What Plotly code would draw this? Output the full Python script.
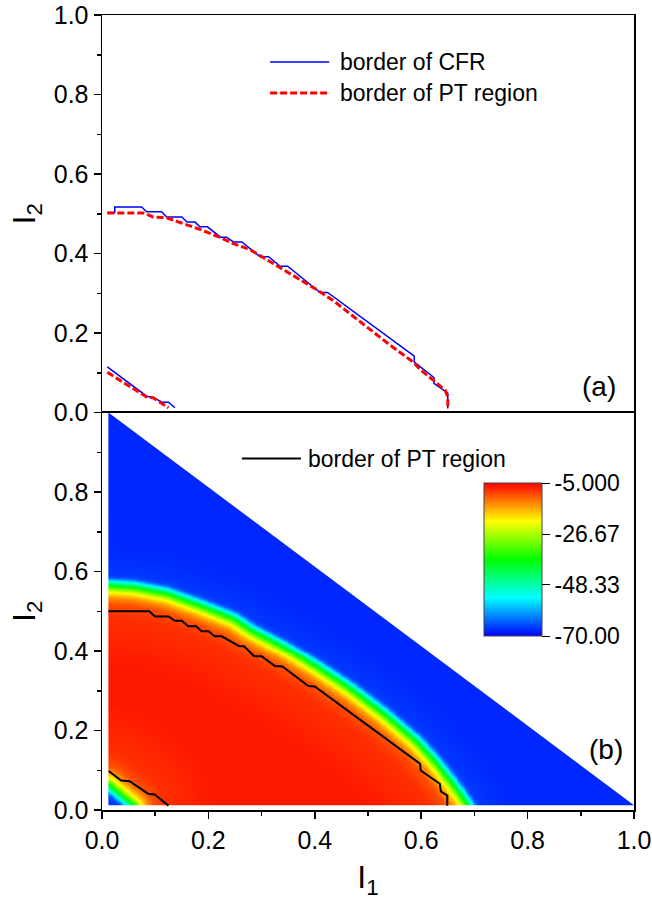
import numpy as np
import plotly.graph_objects as go

FONT = "Liberation Sans, Arial, sans-serif"

# ---------------- panel (a): borders ----------------
cfr_main_l1 = [0.010, 0.024, 0.024, 0.0745, 0.084, 0.112, 0.1215, 0.150, 0.160, 0.175,
               0.184, 0.198, 0.223, 0.234, 0.247, 0.263, 0.297, 0.313, 0.335, 0.349,
               0.410, 0.424, 0.587, 0.587, 0.624, 0.624, 0.650, 0.650]
cfr_main_l2 = [0.503, 0.503, 0.517, 0.517, 0.505, 0.505, 0.492, 0.492, 0.479, 0.479,
               0.467, 0.467, 0.441, 0.441, 0.429, 0.429, 0.392, 0.392, 0.368, 0.368,
               0.302, 0.302, 0.142, 0.127, 0.088, 0.073, 0.049, 0.010]
cfr_small_l1 = [0.010, 0.084, 0.096, 0.113, 0.125, 0.137]
cfr_small_l2 = [0.115, 0.041, 0.038, 0.026, 0.026, 0.012]

pt_main_l1 = [0.010, 0.078, 0.096, 0.1215, 0.153, 0.184, 0.2155, 0.247, 0.278, 0.3095,
              0.341, 0.372, 0.4035, 0.435, 0.504, 0.541, 0.585, 0.598, 0.623, 0.645,
              0.650, 0.650]
pt_main_l2 = [0.502, 0.502, 0.492, 0.490, 0.475, 0.461, 0.444, 0.425, 0.410, 0.385,
              0.359, 0.334, 0.309, 0.281, 0.209, 0.170, 0.127, 0.108, 0.081, 0.056,
              0.039, 0.010]
pt_small_l1 = [0.010, 0.084, 0.096, 0.125]
pt_small_l2 = [0.101, 0.039, 0.037, 0.012]

# ---------------- panel (b): PT border (black) ----------------
ptb_main_l1 = [0.012, 0.089, 0.0996, 0.125, 0.137, 0.150, 0.162, 0.177, 0.187, 0.200,
               0.212, 0.225, 0.258, 0.267, 0.286, 0.300, 0.325, 0.339, 0.388, 0.400,
               0.598, 0.599, 0.635, 0.637, 0.649, 0.649]
ptb_main_l2 = [0.500, 0.500, 0.487, 0.487, 0.476, 0.476, 0.462, 0.462, 0.450, 0.450,
               0.437, 0.437, 0.412, 0.412, 0.387, 0.387, 0.362, 0.361, 0.312, 0.311,
               0.116, 0.0995, 0.066, 0.047, 0.0365, 0.011]
ptb_small_l1 = [0.0125, 0.036, 0.052, 0.0865, 0.099, 0.125]
ptb_small_l2 = [0.098, 0.074, 0.0725, 0.041, 0.039, 0.011]

# centre (green) of the colour transition band
band_l1 = [0.012, 0.059, 0.1215, 0.184, 0.247, 0.278, 0.341, 0.4035, 0.466, 0.529,
           0.5915, 0.629, 0.654, 0.673, 0.688]
band_l2 = [0.565, 0.561, 0.545, 0.515, 0.482, 0.454, 0.410, 0.360, 0.305, 0.242,
           0.171, 0.116, 0.074, 0.040, 0.010]
# small band near the origin (blue corner)
corner_l1 = [0.012, 0.061]
corner_l2 = [0.066, 0.012]
# colour profile across a band: distance in px from band centre -> value
prof_d = [-80, -30, -18, -12, -6.4, 0, 4.7, 8.4, 12, 40]
prof_v = [-6.5, -8.0, -10.0, -14.0, -21.25, -37.5, -53.75, -65.0, -66.5, -67.5]

cbar_vals = [-5.0, -26.67, -48.33, -70.0]
cbar_text = ["-5.000", "-26.67", "-48.33", "-70.00"]

# ---------------- build the value table for the heatmap ----------------
PXS, PYS = 532.0, 397.0
gx = np.round(np.arange(0.010, 1.0051, 0.005), 4)
gy = np.round(np.arange(0.010, 1.0051, 0.005), 4)
GX, GY = np.meshgrid(gx, gy)
PX, PY = GX * PXS, GY * PYS


def seg_dist(xs, ys):
    d = np.full(PX.shape, np.inf)
    for i in range(len(xs) - 1):
        ax_, ay_ = xs[i] * PXS, ys[i] * PYS
        vx, vy = xs[i + 1] * PXS - ax_, ys[i + 1] * PYS - ay_
        t = np.clip(((PX - ax_) * vx + (PY - ay_) * vy) / (vx * vx + vy * vy), 0, 1)
        d = np.minimum(d, np.hypot(PX - ax_ - t * vx, PY - ay_ - t * vy))
    return d


bx = np.array(band_l1) * PXS
by = np.array(band_l2) * PYS
th_c = np.arctan2(by, bx)[::-1]
r_c = np.hypot(bx, by)[::-1]
th = np.arctan2(PY, PX)
sign_main = np.where(np.hypot(PX, PY) > np.interp(th, th_c, r_c), 1.0, -1.0)
d_main = sign_main * seg_dist(band_l1, band_l2)
z_main = np.interp(d_main, prof_d, prof_v)

cax, cay = corner_l1[0] * PXS, corner_l2[0] * PYS
cbx, cby = corner_l1[1] * PXS, corner_l2[1] * PYS
cross_p = (cbx - cax) * (PY - cay) - (cby - cay) * (PX - cax)
cross_o = (cbx - cax) * (0 - cay) - (cby - cay) * (0 - cax)
sign_c = np.where(cross_p * cross_o > 0, 1.0, -1.0)
d_corner = sign_c * seg_dist(corner_l1, corner_l2)
z_corner = np.interp(d_corner, prof_d, prof_v)
Z = np.minimum(z_main, z_corner)

rainbow = [[0.0, "rgb(0,0,255)"], [0.25, "rgb(0,255,255)"], [0.5, "rgb(0,255,0)"],
           [0.75, "rgb(255,255,0)"], [1.0, "rgb(255,0,0)"]]

fig = go.Figure()

# panel (a)
fig.add_trace(go.Scatter(x=cfr_main_l1, y=cfr_main_l2, mode="lines", name="border of CFR",
                         line=dict(color="#0000ff", width=1.5), xaxis="x", yaxis="y"))
fig.add_trace(go.Scatter(x=cfr_small_l1, y=cfr_small_l2, mode="lines", showlegend=False,
                         line=dict(color="#0000ff", width=1.5), xaxis="x", yaxis="y"))
fig.add_trace(go.Scatter(x=pt_main_l1, y=pt_main_l2, mode="lines", name="border of PT region",
                         line=dict(color="#ff0000", width=3, dash="7px,3px"), xaxis="x", yaxis="y"))
fig.add_trace(go.Scatter(x=pt_small_l1, y=pt_small_l2, mode="lines", showlegend=False,
                         line=dict(color="#ff0000", width=3, dash="7px,3px"), xaxis="x", yaxis="y"))

# panel (b)
fig.add_trace(go.Heatmap(x=gx, y=gy, z=Z, zmin=-70, zmax=-5, colorscale=rainbow,
                         zsmooth="best", xaxis="x2", yaxis="y2", hoverinfo="skip",
                         colorbar=dict(x=(484 - 102) / 532, xanchor="left", xpad=0,
                                       y=(810 - 559.5) / 795, yanchor="middle", ypad=0,
                                       len=153, lenmode="pixels", thickness=58,
                                       thicknessmode="pixels", outlinewidth=1,
                                       outlinecolor="#444", ticks="outside", ticklen=8,
                                       tickwidth=1, tickcolor="black",
                                       tickmode="array", tickvals=cbar_vals, ticktext=cbar_text,
                                       tickfont=dict(size=23, family=FONT, color="black"))))
# white outside the computed triangle
mask_x = [0.012, 1.0, 1.05, 1.05, 0.012, None,
          -0.05, 0.012, 0.012, -0.05, None,
          -0.05, 1.05, 1.05, -0.05]
mask_y = [1.0, 0.012, 0.012, 1.05, 1.05, None,
          -0.05, -0.05, 1.05, 1.05, None,
          -0.05, -0.05, 0.012, 0.012]
fig.add_trace(go.Scatter(x=mask_x, y=mask_y, mode="lines", fill="toself", fillcolor="white",
                         line=dict(width=0, color="white"), hoverinfo="skip",
                         showlegend=False, xaxis="x2", yaxis="y2"))
fig.add_trace(go.Scatter(x=ptb_main_l1, y=ptb_main_l2, mode="lines", name="border of PT region",
                         line=dict(color="black", width=2), xaxis="x2", yaxis="y2"))
fig.add_trace(go.Scatter(x=ptb_small_l1, y=ptb_small_l2, mode="lines", showlegend=False,
                         line=dict(color="black", width=2), xaxis="x2", yaxis="y2"))

tickfont = dict(size=25, family=FONT, color="black")
common = dict(range=[0, 1], showline=True, linecolor="black", linewidth=1.5, mirror=True,
              ticks="outside", ticklen=7, tickwidth=1.5, tickcolor="black",
              showgrid=False, zeroline=False, tickfont=tickfont, fixedrange=True,
              automargin=False, ticklabeloverflow="allow")
minor = dict(tickmode="array", tickvals=[0.1, 0.3, 0.5, 0.7, 0.9], ticks="outside",
             ticklen=4, tickwidth=1.5, tickcolor="black", showgrid=False)
major_vals = [0.0, 0.2, 0.4, 0.6, 0.8, 1.0]
major_text = ["0.0", "0.2", "0.4", "0.6", "0.8", "1.0"]

fig.update_layout(
    template="none",
    width=652, height=905,
    margin=dict(l=102, r=18, t=15, b=95, autoexpand=False),
    paper_bgcolor="white", plot_bgcolor="white",
    showlegend=False,
    font=dict(family=FONT, color="black"),
    xaxis=dict(common, anchor="y", tickmode="array", tickvals=major_vals,
               showticklabels=False, minor=minor),
    yaxis=dict(common, domain=[0.5, 1.0], anchor="x", tickmode="array", tickvals=major_vals,
               ticktext=major_text, minor=minor,
               title=dict(text="I<sub>2</sub>", font=dict(size=32, family=FONT), standoff=8)),
    xaxis2=dict(common, anchor="y2", tickmode="array", tickvals=major_vals,
                ticktext=major_text, minor=minor,
                title=dict(text="I<sub>1</sub>", font=dict(size=32, family=FONT), standoff=13)),
    yaxis2=dict(common, domain=[0.0, 0.5], anchor="x2", tickmode="array",
                tickvals=major_vals[:-1], ticktext=major_text[:-1], minor=minor,
                title=dict(text="I<sub>2</sub>", font=dict(size=32, family=FONT), standoff=8)),
)

# legends drawn by hand
leg_font = dict(size=23, family=FONT, color="black")
fig.add_shape(type="line", xref="x", yref="y", x0=0.316, x1=0.427, y0=0.882, y1=0.882,
              line=dict(color="#0000ff", width=1.5))
fig.add_shape(type="line", xref="x", yref="y", x0=0.316, x1=0.427, y0=0.804, y1=0.804,
              line=dict(color="#ff0000", width=3, dash="7px,3px"))
fig.add_annotation(x=0.4436, y=0.882, xref="x", yref="y", text="border of CFR",
                   showarrow=False, xanchor="left", yanchor="middle", font=leg_font)
fig.add_annotation(x=0.4436, y=0.804, xref="x", yref="y", text="border of PT region",
                   showarrow=False, xanchor="left", yanchor="middle", font=leg_font)
fig.add_shape(type="line", xref="x2", yref="y2", x0=0.263, x1=0.374, y0=0.884, y1=0.884,
              line=dict(color="black", width=2))
fig.add_annotation(x=0.383, y=0.884, xref="x2", yref="y2", text="border of PT region",
                   showarrow=False, xanchor="left", yanchor="middle", font=leg_font)
fig.add_annotation(x=0.934, y=0.065, xref="x", yref="y", text="(a)", showarrow=False,
                   xanchor="center", yanchor="middle", font=dict(size=28, family=FONT, color="black"))
fig.add_annotation(x=0.947, y=0.151, xref="x2", yref="y2", text="(b)", showarrow=False,
                   xanchor="center", yanchor="middle", font=dict(size=28, family=FONT, color="black"))

# remove the browser's default 8 px body margin so the figure fills the window exactly
fig.write_html("out.html", config={"displayModeBar": False, "staticPlot": True},
               post_script="document.body.style.margin = '0px';")
